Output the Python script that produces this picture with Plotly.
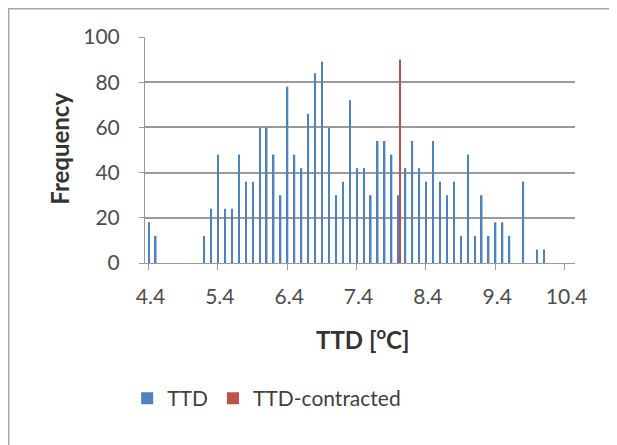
import plotly.graph_objects as go

# TTD bins (0.1 degC wide) and their frequencies
ttd_bins = [
    4.4, 4.5, 4.6, 4.7, 4.8, 4.9, 5.0, 5.1, 5.2, 5.3,
    5.4, 5.5, 5.6, 5.7, 5.8, 5.9, 6.0, 6.1, 6.2, 6.3,
    6.4, 6.5, 6.6, 6.7, 6.8, 6.9, 7.0, 7.1, 7.2, 7.3,
    7.4, 7.5, 7.6, 7.7, 7.8, 7.9, 8.0, 8.1, 8.2, 8.3,
    8.4, 8.5, 8.6, 8.7, 8.8, 8.9, 9.0, 9.1, 9.2, 9.3,
    9.4, 9.5, 9.6, 9.7, 9.8, 9.9, 10.0, 10.1,
]
ttd_freq = [
    18, 12, 0, 0, 0, 0, 0, 0, 12, 24,
    48, 24, 24, 48, 36, 36, 60, 60, 48, 30,
    78, 48, 42, 66, 84, 89, 60, 30, 36, 72,
    42, 42, 30, 54, 54, 48, 30, 42, 54, 42,
    36, 54, 36, 30, 36, 12, 48, 12, 30, 12,
    18, 18, 12, 0, 36, 0, 6, 6,
]

contracted_bins = [8.0]
contracted_freq = [90]

tick_vals = [4.4, 5.4, 6.4, 7.4, 8.4, 9.4, 10.4]
tick_text = ["4.4", "5.4", "6.4", "7.4", "8.4", "9.4", "10.4"]

BLUE = "#4F81BD"
RED = "#C0504D"
GRID = "#9a9a9a"
FONT = "Lato"

fig = go.Figure()
fig.add_bar(x=ttd_bins, y=ttd_freq, name="TTD", marker=dict(color=BLUE, line_width=0),
            width=0.022, offset=-0.006)
fig.add_bar(x=contracted_bins, y=contracted_freq, name="TTD-contracted",
            marker=dict(color=RED, line_width=0), width=0.022, offset=0.018)

# page body has an 8px margin, so the figure is 8px smaller than the window
fig.update_layout(
    width=609, height=437,
    margin=dict(l=137, r=42, t=29, b=182),
    barmode="overlay",
    paper_bgcolor="white", plot_bgcolor="white",
    font=dict(family=FONT, size=21, color="#4d4d4d"),
    showlegend=True,
    legend=dict(orientation="h", x=0.283, y=-0.6, xanchor="center", yanchor="middle",
                font=dict(size=21, color="#404040"), itemwidth=30, tracegroupgap=0),
    xaxis=dict(range=[4.35, 10.55], tickvals=tick_vals, ticktext=tick_text,
               ticks="outside", ticklen=6, tickcolor=GRID, showgrid=False,
               showline=True, linecolor=GRID, linewidth=1, zeroline=False,
               ticklabelshift=2, ticklabelstandoff=9),
    yaxis=dict(range=[0, 100], dtick=20, ticks="outside", ticklen=5, tickcolor=GRID,
               showgrid=True, gridcolor=GRID, gridwidth=1.5,
               showline=True, linecolor=GRID, linewidth=1, zeroline=False,
               ticklabelstandoff=15),
    annotations=[
        dict(text="<b>Frequency</b>", x=-0.198, y=0.505, xref="paper", yref="paper",
             xanchor="center", yanchor="middle",
             textangle=-90, showarrow=False, font=dict(size=24, color="#333333")),
        dict(text="<b>TTD [<sup>o</sup>C]</b>", x=0.505, y=-0.33, xref="paper", yref="paper",
             xanchor="center", yanchor="middle",
             showarrow=False, font=dict(size=24, color="#333333")),
    ],
    shapes=[
        dict(type="rect", xref="paper", yref="paper", x0=-0.317, x1=1.2, y0=-0.9, y1=1.125,
             line=dict(color="#a6a6a6", width=1.5), fillcolor="rgba(0,0,0,0)"),
    ],
)

fig.write_html("out.html")
